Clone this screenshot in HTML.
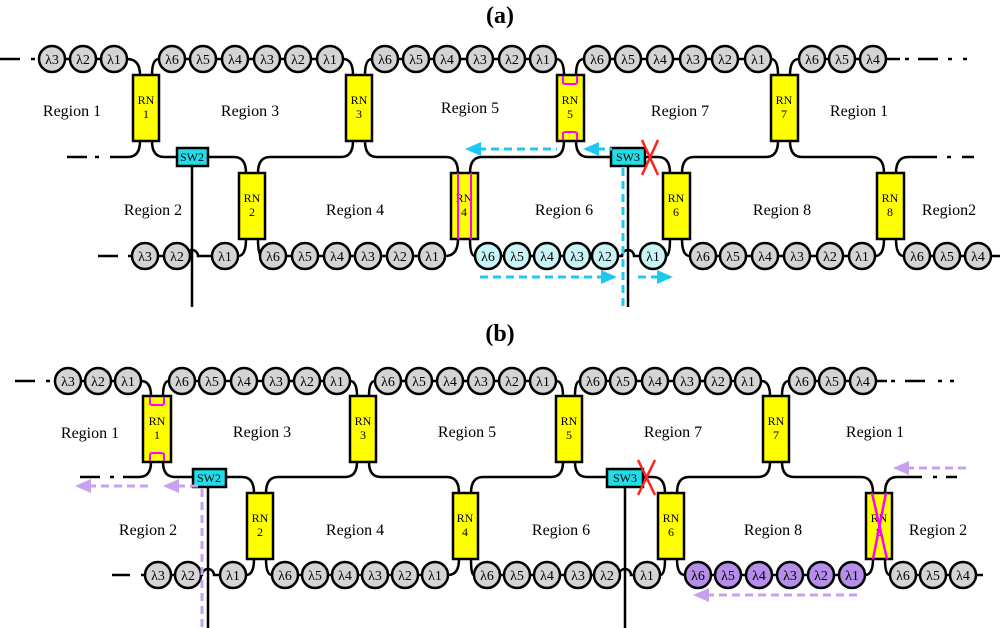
<!DOCTYPE html>
<html><head><meta charset="utf-8"><style>
body{margin:0;background:#fff}
svg{display:block}
.l{fill:none;stroke:#000;stroke-width:2.5}
.c{fill:#d4d4d4;stroke:#000;stroke-width:2.5}
.cb{fill:#c8f4f8;stroke:#000;stroke-width:2.5}
.cp{fill:#b48ee8;stroke:#000;stroke-width:2.5}
.rn{fill:#ffff00;stroke:#000;stroke-width:2.5}
.sw{fill:#22dde8;stroke:#000;stroke-width:2.5}
text{font-family:"Liberation Serif",serif;text-anchor:middle}
.lt{font-size:14px}
.rt{font-size:12px}
.rg{font-size:16px}
.bd{fill:none;stroke:#1ec8f0;stroke-width:3;stroke-dasharray:8,5}
.pd{fill:none;stroke:#c8a0f0;stroke-width:3;stroke-dasharray:8,5}
.mg{fill:none;stroke:#ff00ff;stroke-width:2}
.rx{stroke:#ff2020;stroke-width:2.5}
</style></head><body>
<svg width="1000" height="628" viewBox="0 0 1000 628" xmlns="http://www.w3.org/2000/svg">
<text x="500" y="23" style="font-size:24px;font-weight:bold">(a)</text>
<text x="500" y="341" style="font-size:24px;font-weight:bold">(b)</text>

<!-- ============ PANEL A ============ -->
<g class="l">
<path d="M0,59H20M31,59H35M52,59H114M127,59Q140,59 140,75M152,75Q152,59 159,59M172,59H330M343,59Q353,59 353,75M365,75Q365,59 372,59M385,59H543M556,59Q564,59 564,75M576,75Q576,59 584,59M597,59H758M771,59Q778,59 778,75M790,75Q790,59 799,59M812,59H900M905,59H909M918,59H938M948,59H952M963,59H967"/>
<path d="M67,157H87M95,157H99M110,157H128Q140,157 140,141M152,141Q152,157 164,157H177M208,157H234Q246,157 246,173M258,173Q258,157 270,157H341Q353,157 353,141M365,141Q365,157 377,157H446Q458,157 458,173M470,173Q470,157 482,157H552Q564,157 564,141M576,141Q576,157 588,157H611M645,157H658Q670,157 670,173M682,173Q682,157 694,157H766Q778,157 778,141M790,141Q790,157 802,157H872Q884,157 884,173M896,173Q896,157 908,157H937M947,157H951M962,157H974"/>
<path d="M98,256H118M128,256H132M145,256H186A6,6 0 0 1 198,256H225M238,256Q246,256 246,239M258,239Q258,256 262,256M273,256H432M445,256Q458,256 458,239M470,239Q470,256 475,256M488,256H622A6,6 0 0 1 634,256H653M666,256Q670,256 670,239M682,239Q682,256 690,256M703,256H862M875,256Q884,256 884,239M896,239Q896,256 904,256M917,256H1000"/>
<path d="M192,166V307M628,166V307"/>
</g>
<g class="c">
<circle cx="52" cy="59" r="13"/><circle cx="83" cy="59" r="13"/><circle cx="114" cy="59" r="13"/>
<circle cx="172" cy="59" r="13"/><circle cx="203" cy="59" r="13"/><circle cx="235" cy="59" r="13"/><circle cx="267" cy="59" r="13"/><circle cx="298" cy="59" r="13"/><circle cx="330" cy="59" r="13"/>
<circle cx="385" cy="59" r="13"/><circle cx="416" cy="59" r="13"/><circle cx="447" cy="59" r="13"/><circle cx="480" cy="59" r="13"/><circle cx="512" cy="59" r="13"/><circle cx="543" cy="59" r="13"/>
<circle cx="597" cy="59" r="13"/><circle cx="628" cy="59" r="13"/><circle cx="660" cy="59" r="13"/><circle cx="693" cy="59" r="13"/><circle cx="725" cy="59" r="13"/><circle cx="758" cy="59" r="13"/>
<circle cx="812" cy="59" r="13"/><circle cx="842" cy="59" r="13"/><circle cx="873" cy="59" r="13"/>
<circle cx="145" cy="256" r="13"/><circle cx="177" cy="256" r="13"/><circle cx="225" cy="256" r="13"/>
<circle cx="273" cy="256" r="13"/><circle cx="305" cy="256" r="13"/><circle cx="337" cy="256" r="13"/><circle cx="368" cy="256" r="13"/><circle cx="400" cy="256" r="13"/><circle cx="432" cy="256" r="13"/>
<circle cx="703" cy="256" r="13"/><circle cx="733" cy="256" r="13"/><circle cx="765" cy="256" r="13"/><circle cx="797" cy="256" r="13"/><circle cx="830" cy="256" r="13"/><circle cx="862" cy="256" r="13"/>
<circle cx="917" cy="256" r="13"/><circle cx="947" cy="256" r="13"/><circle cx="978" cy="256" r="13"/>
</g>
<g class="cb">
<circle cx="488" cy="256" r="13"/><circle cx="517" cy="256" r="13"/><circle cx="547" cy="256" r="13"/><circle cx="577" cy="256" r="13"/><circle cx="605" cy="256" r="13"/><circle cx="653" cy="256" r="13"/>
</g>
<g class="lt">
<text x="52" y="64">λ3</text><text x="83" y="64">λ2</text><text x="114" y="64">λ1</text>
<text x="172" y="64">λ6</text><text x="203" y="64">λ5</text><text x="235" y="64">λ4</text><text x="267" y="64">λ3</text><text x="298" y="64">λ2</text><text x="330" y="64">λ1</text>
<text x="385" y="64">λ6</text><text x="416" y="64">λ5</text><text x="447" y="64">λ4</text><text x="480" y="64">λ3</text><text x="512" y="64">λ2</text><text x="543" y="64">λ1</text>
<text x="597" y="64">λ6</text><text x="628" y="64">λ5</text><text x="660" y="64">λ4</text><text x="693" y="64">λ3</text><text x="725" y="64">λ2</text><text x="758" y="64">λ1</text>
<text x="812" y="64">λ6</text><text x="842" y="64">λ5</text><text x="873" y="64">λ4</text>
<text x="145" y="261">λ3</text><text x="177" y="261">λ2</text><text x="225" y="261">λ1</text>
<text x="273" y="261">λ6</text><text x="305" y="261">λ5</text><text x="337" y="261">λ4</text><text x="368" y="261">λ3</text><text x="400" y="261">λ2</text><text x="432" y="261">λ1</text>
<text x="488" y="261">λ6</text><text x="517" y="261">λ5</text><text x="547" y="261">λ4</text><text x="577" y="261">λ3</text><text x="605" y="261">λ2</text><text x="653" y="261">λ1</text>
<text x="703" y="261">λ6</text><text x="733" y="261">λ5</text><text x="765" y="261">λ4</text><text x="797" y="261">λ3</text><text x="830" y="261">λ2</text><text x="862" y="261">λ1</text>
<text x="917" y="261">λ6</text><text x="947" y="261">λ5</text><text x="978" y="261">λ4</text>
</g>
<g class="rn">
<rect x="133" y="75" width="26" height="66"/><rect x="346" y="75" width="26" height="66"/><rect x="557" y="75" width="27" height="66"/><rect x="771" y="75" width="27" height="66"/>
<rect x="239" y="173" width="26" height="66"/><rect x="451" y="173" width="27" height="66"/><rect x="663" y="173" width="27" height="66"/><rect x="877" y="173" width="27" height="66"/>
</g>
<rect class="sw" x="177" y="148" width="31" height="18"/><rect class="sw" x="611" y="148" width="34" height="18"/>
<g class="rt">
<text x="192" y="161">SW2</text><text x="628" y="161">SW3</text>
<text x="146" y="104">RN</text><text x="146" y="118">1</text>
<text x="359" y="104">RN</text><text x="359" y="118">3</text>
<text x="570" y="104">RN</text><text x="570" y="118">5</text>
<text x="784" y="104">RN</text><text x="784" y="118">7</text>
<text x="252" y="202">RN</text><text x="252" y="216">2</text>
<text x="464" y="202">RN</text><text x="464" y="216">4</text>
<text x="676" y="202">RN</text><text x="676" y="216">6</text>
<text x="890" y="202">RN</text><text x="890" y="216">8</text>
</g>
<g class="rg">
<text x="72" y="116">Region 1</text><text x="250" y="116">Region 3</text><text x="470" y="113">Region 5</text><text x="680" y="116">Region 7</text><text x="859" y="116">Region 1</text>
<text x="153" y="215">Region 2</text><text x="355" y="215">Region 4</text><text x="564" y="215">Region 6</text><text x="782" y="215">Region 8</text><text x="949" y="215">Region2</text>
</g>
<path class="mg" d="M458,173V239M471,173V239M563,76V82Q563,84 566,84H574Q577,84 577,82V76M563,140V134Q563,132 566,132H574Q577,132 577,134V140"/>
<path class="rx" d="M642,140L658,175M658,140L642,175"/>
<path class="bd" d="M478,149H557M597,149H612M623,168V307M480,277H603M638,277H660"/>
<g fill="#1ec8f0">
<polygon points="465,149 481,142 481,156"/><polygon points="583,149 599,142 599,156"/>
<polygon points="617,277 601,270 601,284"/><polygon points="673,277 657,270 657,284"/>
</g>

<!-- ============ PANEL B ============ -->
<g class="l">
<path d="M15,381H35M46,381H50M68,381H128M141,381Q151,381 151,396M163,396Q163,381 169,381M182,381H337M350,381Q357,381 357,396M369,396Q369,381 375,381M388,381H543M556,381Q563,381 563,396M575,396Q575,381 580,381M593,381H748M761,381Q770,381 770,396M782,396Q782,381 789,381M802,381H887M891,381H895M905,381H925M938,381H942M950,381H954"/>
<path d="M80,477H100M110,477H114M123,477H139Q151,477 151,462M163,462Q163,477 175,477H193M226,477H242Q254,477 254,493M266,493Q266,477 278,477H345Q357,477 357,462M369,462Q369,477 381,477H447Q459,477 459,493M471,493Q471,477 483,477H551Q563,477 563,462M575,462Q575,477 587,477H607M643,477H653Q665,477 665,493M677,493Q677,477 689,477H758Q770,477 770,462M782,462Q782,477 794,477H861Q873,477 873,493M885,493Q885,477 897,477H922M933,477H937M946,477H957"/>
<path d="M112,575H130M141,575H145M158,575H202A6,6 0 0 1 214,575H233M246,575Q254,575 254,559M266,559Q266,575 272,575M285,575H435M448,575Q459,575 459,559M471,559Q471,575 474,575M487,575H619A6,6 0 0 1 631,575H647M660,575Q665,575 665,559M677,559Q677,575 685,575M698,575H852M865,575Q873,575 873,559M885,559Q885,575 890,575M903,575H983"/>
<path d="M208,487V628M625,487V628"/>
</g>
<g class="c">
<circle cx="68" cy="381" r="13"/><circle cx="98" cy="381" r="13"/><circle cx="128" cy="381" r="13"/>
<circle cx="182" cy="381" r="13"/><circle cx="212" cy="381" r="13"/><circle cx="244" cy="381" r="13"/><circle cx="276" cy="381" r="13"/><circle cx="307" cy="381" r="13"/><circle cx="337" cy="381" r="13"/>
<circle cx="388" cy="381" r="13"/><circle cx="419" cy="381" r="13"/><circle cx="450" cy="381" r="13"/><circle cx="481" cy="381" r="13"/><circle cx="512" cy="381" r="13"/><circle cx="543" cy="381" r="13"/>
<circle cx="593" cy="381" r="13"/><circle cx="623" cy="381" r="13"/><circle cx="655" cy="381" r="13"/><circle cx="687" cy="381" r="13"/><circle cx="718" cy="381" r="13"/><circle cx="748" cy="381" r="13"/>
<circle cx="802" cy="381" r="13"/><circle cx="832" cy="381" r="13"/><circle cx="863" cy="381" r="13"/>
<circle cx="158" cy="575" r="13"/><circle cx="188" cy="575" r="13"/><circle cx="233" cy="575" r="13"/>
<circle cx="285" cy="575" r="13"/><circle cx="315" cy="575" r="13"/><circle cx="345" cy="575" r="13"/><circle cx="375" cy="575" r="13"/><circle cx="405" cy="575" r="13"/><circle cx="435" cy="575" r="13"/>
<circle cx="487" cy="575" r="13"/><circle cx="517" cy="575" r="13"/><circle cx="547" cy="575" r="13"/><circle cx="578" cy="575" r="13"/><circle cx="607" cy="575" r="13"/><circle cx="647" cy="575" r="13"/>
<circle cx="903" cy="575" r="13"/><circle cx="933" cy="575" r="13"/><circle cx="963" cy="575" r="13"/>
</g>
<g class="cp">
<circle cx="698" cy="575" r="13"/><circle cx="728" cy="575" r="13"/><circle cx="759" cy="575" r="13"/><circle cx="790" cy="575" r="13"/><circle cx="821" cy="575" r="13"/><circle cx="852" cy="575" r="13"/>
</g>
<g class="lt">
<text x="68" y="386">λ3</text><text x="98" y="386">λ2</text><text x="128" y="386">λ1</text>
<text x="182" y="386">λ6</text><text x="212" y="386">λ5</text><text x="244" y="386">λ4</text><text x="276" y="386">λ3</text><text x="307" y="386">λ2</text><text x="337" y="386">λ1</text>
<text x="388" y="386">λ6</text><text x="419" y="386">λ5</text><text x="450" y="386">λ4</text><text x="481" y="386">λ3</text><text x="512" y="386">λ2</text><text x="543" y="386">λ1</text>
<text x="593" y="386">λ6</text><text x="623" y="386">λ5</text><text x="655" y="386">λ4</text><text x="687" y="386">λ3</text><text x="718" y="386">λ2</text><text x="748" y="386">λ1</text>
<text x="802" y="386">λ6</text><text x="832" y="386">λ5</text><text x="863" y="386">λ4</text>
<text x="158" y="580">λ3</text><text x="188" y="580">λ2</text><text x="233" y="580">λ1</text>
<text x="285" y="580">λ6</text><text x="315" y="580">λ5</text><text x="345" y="580">λ4</text><text x="375" y="580">λ3</text><text x="405" y="580">λ2</text><text x="435" y="580">λ1</text>
<text x="487" y="580">λ6</text><text x="517" y="580">λ5</text><text x="547" y="580">λ4</text><text x="578" y="580">λ3</text><text x="607" y="580">λ2</text><text x="647" y="580">λ1</text>
<text x="698" y="580">λ6</text><text x="728" y="580">λ5</text><text x="759" y="580">λ4</text><text x="790" y="580">λ3</text><text x="821" y="580">λ2</text><text x="852" y="580">λ1</text>
<text x="903" y="580">λ6</text><text x="933" y="580">λ5</text><text x="963" y="580">λ4</text>
</g>
<g class="rn">
<rect x="143" y="396" width="28" height="66"/><rect x="350" y="396" width="26" height="66"/><rect x="556" y="396" width="26" height="66"/><rect x="763" y="396" width="26" height="66"/>
<rect x="247" y="493" width="26" height="66"/><rect x="453" y="493" width="25" height="66"/><rect x="658" y="493" width="26" height="66"/><rect x="866" y="493" width="26" height="66"/>
</g>
<rect class="sw" x="193" y="469" width="33" height="18"/><rect class="sw" x="607" y="469" width="36" height="18"/>
<g class="rt">
<text x="209" y="482">SW2</text><text x="625" y="482">SW3</text>
<text x="157" y="425">RN</text><text x="157" y="439">1</text>
<text x="363" y="425">RN</text><text x="363" y="439">3</text>
<text x="569" y="425">RN</text><text x="569" y="439">5</text>
<text x="776" y="425">RN</text><text x="776" y="439">7</text>
<text x="260" y="522">RN</text><text x="260" y="536">2</text>
<text x="465" y="522">RN</text><text x="465" y="536">4</text>
<text x="671" y="522">RN</text><text x="671" y="536">6</text>
<text x="879" y="522">RN</text><text x="879" y="536">8</text>
</g>
<g class="rg">
<text x="90" y="438">Region 1</text><text x="262" y="437">Region 3</text><text x="467" y="437">Region 5</text><text x="673" y="437">Region 7</text><text x="875" y="437">Region 1</text>
<text x="148" y="535">Region 2</text><text x="355" y="535">Region 4</text><text x="561" y="535">Region 6</text><text x="773" y="535">Region 8</text><text x="938" y="535">Region 2</text>
</g>
<path class="mg" d="M150,397V403Q150,405 153,405H161Q164,405 164,403V397M150,461V455Q150,453 153,453H161Q164,453 164,455V461"/>
<path class="mg" style="stroke-width:2.5" d="M872,493L887,559M886,493L873,559"/>
<path class="rx" d="M638,460L655,495M655,460L638,495"/>
<path class="pd" d="M88,486H148M177,486H200M202,489V628M906,468H967M706,595H862"/>
<g fill="#c8a0f0">
<polygon points="75,486 91,479 91,493"/><polygon points="163,486 179,479 179,493"/>
<polygon points="893,468 909,461 909,475"/><polygon points="693,595 709,588 709,602"/>
</g>
</svg>
</body></html>
